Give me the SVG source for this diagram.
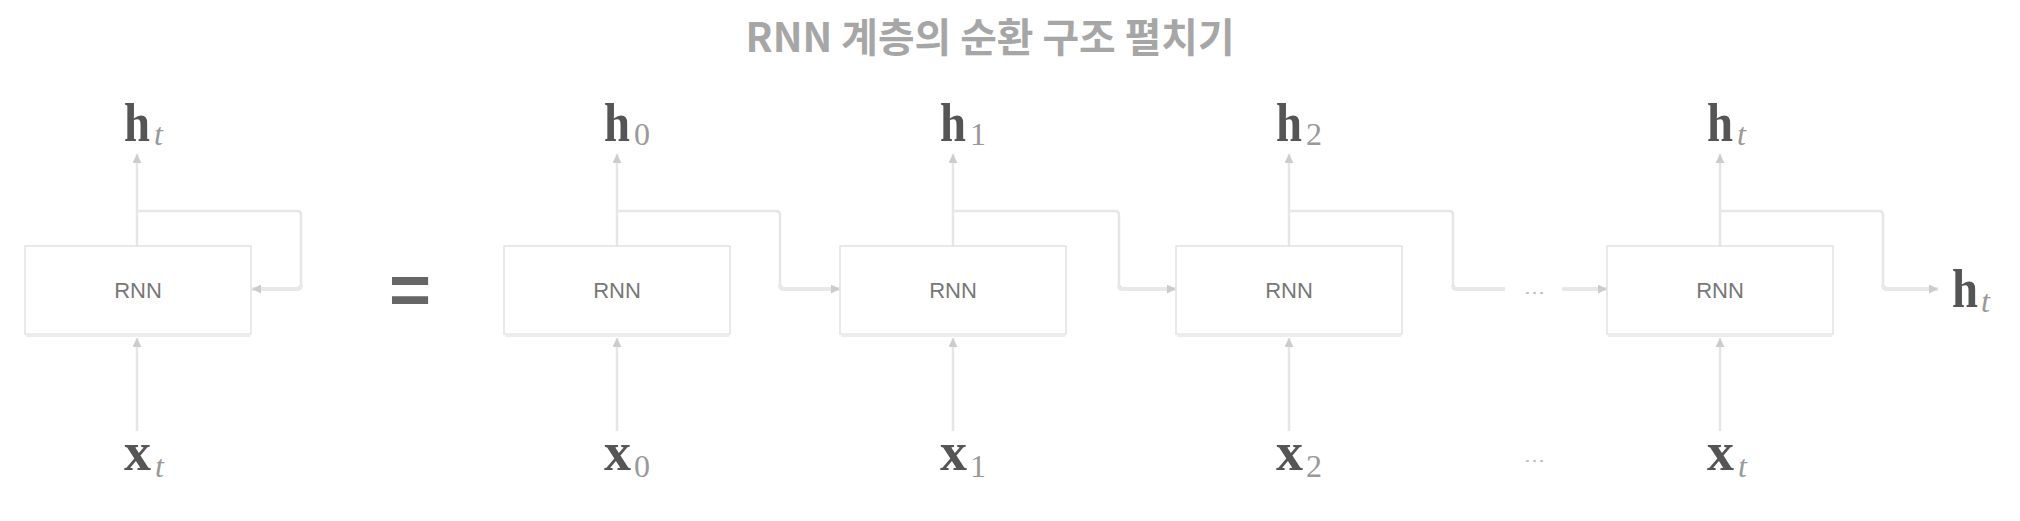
<svg xmlns="http://www.w3.org/2000/svg" width="2020" height="521" viewBox="0 0 2020 521">
<style>
.box{fill:#fff;stroke:#e2e2e2;stroke-width:1.5}
.shadow{stroke:#ececec;stroke-width:4;fill:none}
.lbl{font-family:"Liberation Sans",Arial,sans-serif;font-size:22px;fill:#777;text-anchor:middle}
.main{font-family:"Liberation Serif","Times New Roman",serif;font-weight:bold;font-size:54px;fill:#555}
.sub{font-family:"Liberation Serif","Times New Roman",serif;font-size:32px;fill:#999}
.it{font-style:italic}
.ln{fill:none;stroke:#e6e6e6;stroke-width:2.5;stroke-linejoin:round}
.lnb{fill:none;stroke:#e8e8e8;stroke-width:4;stroke-linejoin:round}
.dots{font-family:"Liberation Sans",Arial,sans-serif;font-size:18px;fill:#bbb}
.title{font-family:"Noto Sans CJK KR","Noto Sans",sans-serif;font-weight:bold;font-size:40px;fill:#a6a6a6;text-anchor:middle}
</style>
<defs>
<marker id="ah" viewBox="0 0 10 10" refX="10" refY="5" markerWidth="9" markerHeight="9" markerUnits="userSpaceOnUse" orient="auto">
<path d="M0,0 L10,5 L0,10 z" fill="#cccccc"/>
</marker>
</defs>
<text class="title" x="990" y="52" textLength="489" lengthAdjust="spacingAndGlyphs">RNN 계층의 순환 구조 펼치기</text>
<g id="connectors">
<path class="ln" d="M137,246 V154" marker-end="url(#ah)"/>
<path class="ln" d="M137,431 V338" marker-end="url(#ah)"/>
<path class="ln" d="M137,211 H297 Q301,211 301,215 V285"/>
<path class="lnb" d="M301,285 Q301,289 297,289 H252" marker-end="url(#ah)"/>
<path class="ln" d="M617,246 V154" marker-end="url(#ah)"/>
<path class="ln" d="M617,431 V338" marker-end="url(#ah)"/>
<path class="ln" d="M617,211 H776 Q780,211 780,215 V285"/>
<path class="lnb" d="M780,285 Q780,289 784,289 H840" marker-end="url(#ah)"/>
<path class="ln" d="M953,246 V154" marker-end="url(#ah)"/>
<path class="ln" d="M953,431 V338" marker-end="url(#ah)"/>
<path class="ln" d="M953,211 H1115 Q1119,211 1119,215 V285"/>
<path class="lnb" d="M1119,285 Q1119,289 1123,289 H1176" marker-end="url(#ah)"/>
<path class="ln" d="M1289,246 V154" marker-end="url(#ah)"/>
<path class="ln" d="M1289,431 V338" marker-end="url(#ah)"/>
<path class="ln" d="M1289,211 H1449 Q1453,211 1453,215 V285"/>
<path class="lnb" d="M1453,285 Q1453,289 1457,289 H1505"/>
<path class="lnb" d="M1562,289 H1607" marker-end="url(#ah)"/>
<path class="ln" d="M1720,246 V154" marker-end="url(#ah)"/>
<path class="ln" d="M1720,431 V338" marker-end="url(#ah)"/>
<path class="ln" d="M1720,211 H1879 Q1883,211 1883,215 V285"/>
<path class="lnb" d="M1883,285 Q1883,289 1887,289 H1938" marker-end="url(#ah)"/>
</g>
<g id="node-fold">
<rect class="box" x="25" y="246" width="226" height="88"/>
<line class="shadow" x1="26" y1="335" x2="250" y2="335"/>
<text class="lbl" x="138" y="298">RNN</text>
<text class="main" x="124" y="141" textLength="26" lengthAdjust="spacingAndGlyphs">h</text>
<text class="sub it" x="154" y="145">t</text>
<text class="main" x="124" y="470">x</text>
<text class="sub it" x="155" y="477">t</text>
</g>
<text id="equals" x="410" y="314" text-anchor="middle" style="font-family:'Liberation Sans',Arial,sans-serif;font-weight:bold;font-size:72px;fill:#666">=</text>
<g id="node-0">
<rect class="box" x="504" y="246" width="226" height="88"/>
<line class="shadow" x1="505" y1="335" x2="729" y2="335"/>
<text class="lbl" x="617" y="298">RNN</text>
<text class="main" x="604" y="141" textLength="26" lengthAdjust="spacingAndGlyphs">h</text>
<text class="sub" x="634" y="145">0</text>
<text class="main" x="604" y="470">x</text>
<text class="sub" x="634" y="477">0</text>
</g>
<g id="node-1">
<rect class="box" x="840" y="246" width="226" height="88"/>
<line class="shadow" x1="841" y1="335" x2="1065" y2="335"/>
<text class="lbl" x="953" y="298">RNN</text>
<text class="main" x="940" y="141" textLength="26" lengthAdjust="spacingAndGlyphs">h</text>
<text class="sub" x="970" y="145">1</text>
<text class="main" x="940" y="470">x</text>
<text class="sub" x="970" y="477">1</text>
</g>
<g id="node-2">
<rect class="box" x="1176" y="246" width="226" height="88"/>
<line class="shadow" x1="1177" y1="335" x2="1401" y2="335"/>
<text class="lbl" x="1289" y="298">RNN</text>
<text class="main" x="1276" y="141" textLength="26" lengthAdjust="spacingAndGlyphs">h</text>
<text class="sub" x="1306" y="145">2</text>
<text class="main" x="1276" y="470">x</text>
<text class="sub" x="1306" y="477">2</text>
</g>
<g id="dots">
<text class="dots" x="1524" y="294" textLength="21" lengthAdjust="spacingAndGlyphs">...</text>
<text class="dots" x="1524" y="462" textLength="21" lengthAdjust="spacingAndGlyphs">...</text>
</g>
<g id="node-t">
<rect class="box" x="1607" y="246" width="226" height="88"/>
<line class="shadow" x1="1608" y1="335" x2="1832" y2="335"/>
<text class="lbl" x="1720" y="298">RNN</text>
<text class="main" x="1707" y="141" textLength="26" lengthAdjust="spacingAndGlyphs">h</text>
<text class="sub it" x="1737" y="145">t</text>
<text class="main" x="1707" y="470">x</text>
<text class="sub it" x="1738" y="477">t</text>
</g>
<g id="out-ht">
<text class="main" x="1952" y="307" textLength="26" lengthAdjust="spacingAndGlyphs">h</text>
<text class="sub it" x="1981" y="312">t</text>
</g>
</svg>
